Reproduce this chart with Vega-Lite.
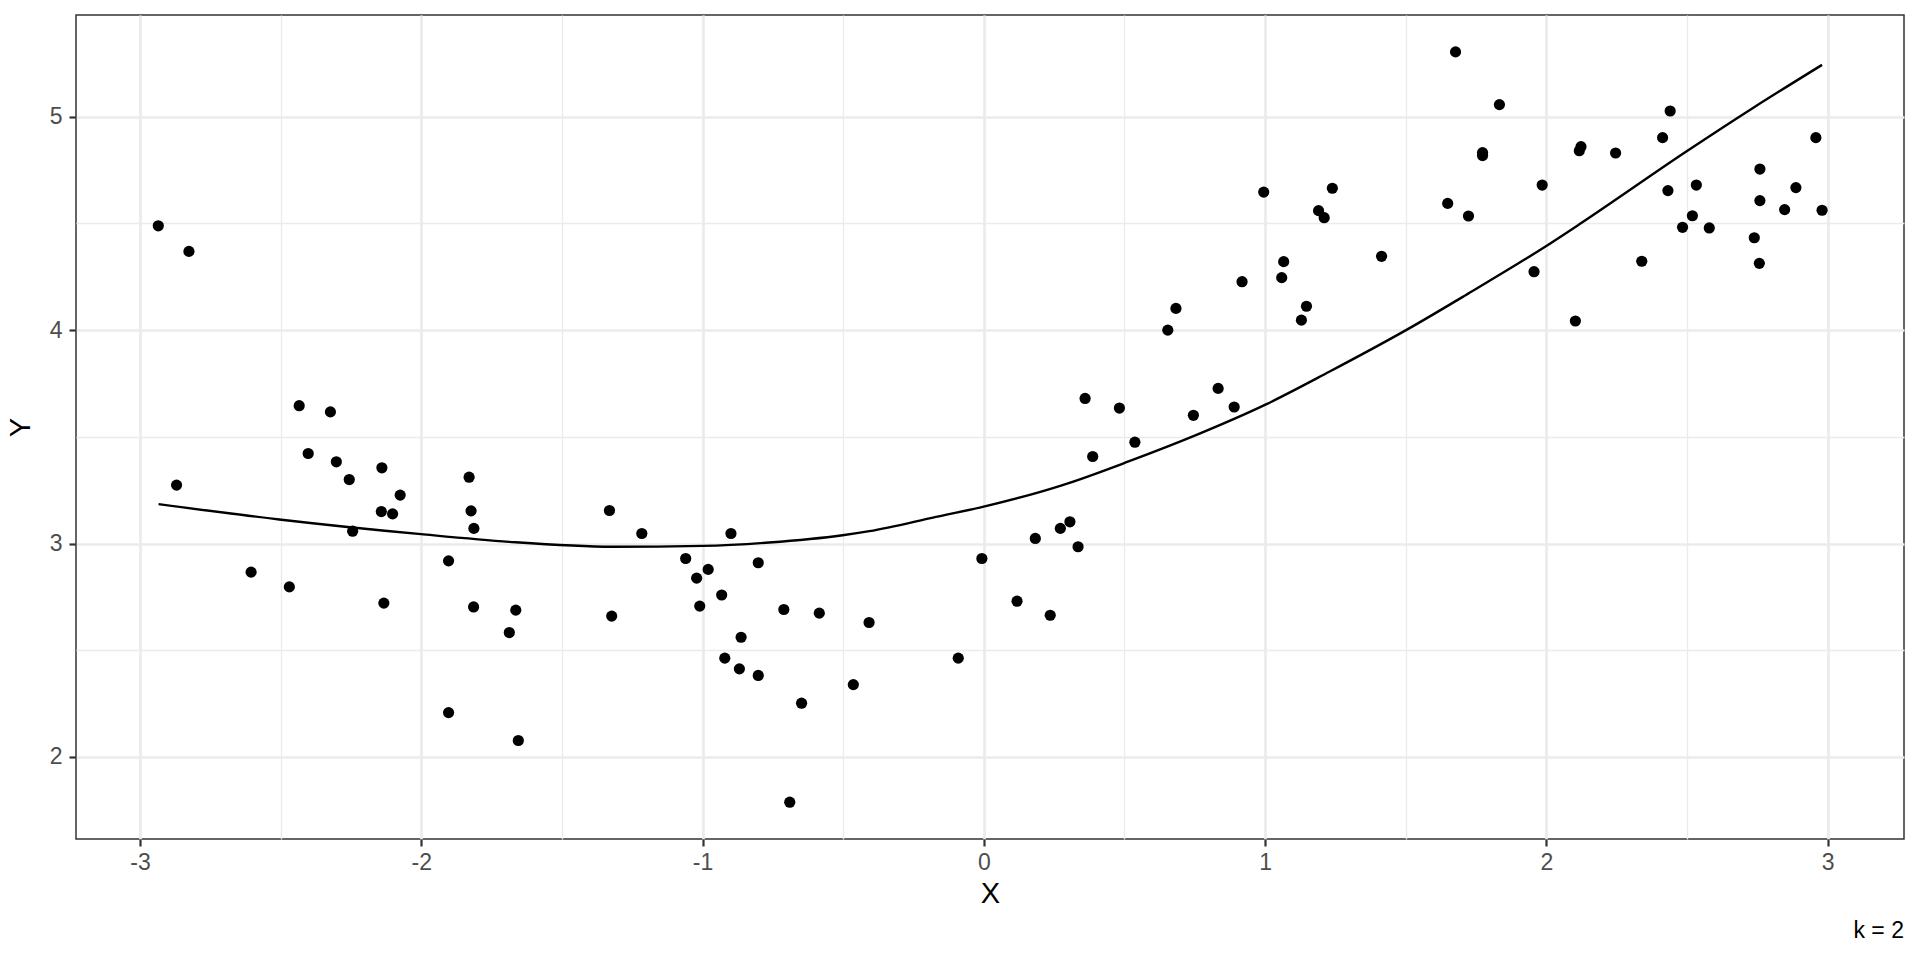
{
  "$schema": "https://vega.github.io/schema/vega-lite/v6.json",
  "width": 1828,
  "height": 824,
  "autosize": {"type": "none"},
  "padding": {"left": 76, "top": 15, "right": 16, "bottom": 121},
  "background": "white",
  "config": {
    "font": "Liberation Sans",
    "view": {"stroke": "#333333", "strokeWidth": 1.5}
  },
  "title": {"text": "k = 2", "orient": "bottom", "anchor": "end", "frame": "group", "fontSize": 23, "fontWeight": "normal", "color": "black", "font": "Liberation Sans", "offset": 12},
  "datasets": {
    "pts": [
      {"x": -2.935, "y": 4.489}, {"x": -2.826, "y": 4.369}, {"x": -2.434, "y": 3.646}, {"x": -2.323, "y": 3.617},
      {"x": -2.870, "y": 3.274}, {"x": -2.402, "y": 3.422}, {"x": -2.302, "y": 3.383}, {"x": -2.256, "y": 3.300},
      {"x": -2.140, "y": 3.355}, {"x": -2.075, "y": 3.227}, {"x": -2.142, "y": 3.150}, {"x": -2.102, "y": 3.139},
      {"x": -2.244, "y": 3.058}, {"x": -1.830, "y": 3.311}, {"x": -1.823, "y": 3.153}, {"x": -1.813, "y": 3.071},
      {"x": -1.903, "y": 2.919}, {"x": -2.605, "y": 2.866}, {"x": -2.469, "y": 2.797}, {"x": -2.133, "y": 2.721},
      {"x": -1.814, "y": 2.703}, {"x": -1.664, "y": 2.688}, {"x": -1.687, "y": 2.583}, {"x": -1.903, "y": 2.208},
      {"x": -1.655, "y": 2.077},
      {"x": -1.331, "y": 3.155}, {"x": -1.216, "y": 3.047}, {"x": -0.899, "y": 3.047}, {"x": -1.060, "y": 2.930},
      {"x": -0.980, "y": 2.879}, {"x": -1.021, "y": 2.838}, {"x": -0.802, "y": 2.910}, {"x": -0.932, "y": 2.759},
      {"x": -1.010, "y": 2.707}, {"x": -1.323, "y": 2.660}, {"x": -0.711, "y": 2.691}, {"x": -0.585, "y": 2.674},
      {"x": -0.408, "y": 2.630}, {"x": -0.863, "y": 2.561}, {"x": -0.921, "y": 2.463}, {"x": -0.869, "y": 2.413},
      {"x": -0.802, "y": 2.382}, {"x": -0.464, "y": 2.339}, {"x": -0.648, "y": 2.252}, {"x": -0.690, "y": 1.788},
      {"x": -0.091, "y": 2.463}, {"x": -0.007, "y": 2.930},
      {"x": 0.387, "y": 3.408}, {"x": 0.537, "y": 3.475}, {"x": 0.306, "y": 3.102}, {"x": 0.272, "y": 3.071},
      {"x": 0.183, "y": 3.024}, {"x": 0.335, "y": 2.985}, {"x": 0.118, "y": 2.730}, {"x": 0.236, "y": 2.664},
      {"x": 0.360, "y": 3.680}, {"x": 0.482, "y": 3.635}, {"x": 0.745, "y": 3.601}, {"x": 0.833, "y": 3.727},
      {"x": 0.890, "y": 3.640}, {"x": 0.654, "y": 4.000}, {"x": 0.683, "y": 4.102}, {"x": 0.918, "y": 4.227},
      {"x": 0.995, "y": 4.647}, {"x": 1.059, "y": 4.246}, {"x": 1.066, "y": 4.321}, {"x": 1.129, "y": 4.047},
      {"x": 1.147, "y": 4.112}, {"x": 1.190, "y": 4.560}, {"x": 1.210, "y": 4.527}, {"x": 1.239, "y": 4.665},
      {"x": 1.414, "y": 4.346}, {"x": 1.649, "y": 4.594}, {"x": 1.677, "y": 5.304},
      {"x": 1.723, "y": 4.535}, {"x": 1.773, "y": 4.832}, {"x": 1.773, "y": 4.818}, {"x": 1.833, "y": 5.057},
      {"x": 1.956, "y": 4.274}, {"x": 1.985, "y": 4.680}, {"x": 2.103, "y": 4.043}, {"x": 2.117, "y": 4.841},
      {"x": 2.123, "y": 4.860}, {"x": 2.246, "y": 4.830}, {"x": 2.339, "y": 4.323}, {"x": 2.413, "y": 4.902},
      {"x": 2.440, "y": 5.027}, {"x": 2.432, "y": 4.654}, {"x": 2.533, "y": 4.680}, {"x": 2.519, "y": 4.536},
      {"x": 2.484, "y": 4.482}, {"x": 2.579, "y": 4.479}, {"x": 2.739, "y": 4.433}, {"x": 2.757, "y": 4.313},
      {"x": 2.759, "y": 4.755}, {"x": 2.759, "y": 4.607}, {"x": 2.847, "y": 4.565}, {"x": 2.887, "y": 4.668},
      {"x": 2.958, "y": 4.902}, {"x": 2.980, "y": 4.562}
    ],
    "fit": [
      {"x": -2.934, "y": 3.185}, {"x": -2.505, "y": 3.113}, {"x": -2.001, "y": 3.044}, {"x": -1.687, "y": 3.008},
      {"x": -1.319, "y": 2.985}, {"x": -1.0, "y": 2.989}, {"x": -0.763, "y": 3.005}, {"x": -0.502, "y": 3.039},
      {"x": -0.407, "y": 3.058}, {"x": -0.170, "y": 3.125}, {"x": -0.004, "y": 3.172}, {"x": 0.280, "y": 3.274},
      {"x": 0.517, "y": 3.386}, {"x": 0.754, "y": 3.508}, {"x": 1.003, "y": 3.652}, {"x": 1.228, "y": 3.805},
      {"x": 1.501, "y": 4.000}, {"x": 1.714, "y": 4.165}, {"x": 1.987, "y": 4.384}, {"x": 2.117, "y": 4.496},
      {"x": 2.496, "y": 4.836}, {"x": 2.733, "y": 5.040}, {"x": 2.980, "y": 5.243}
    ]
  },
  "encoding": {
    "x": {
      "field": "x", "type": "quantitative",
      "scale": {"domain": [-3.2275, 3.2713], "nice": false, "zero": false},
      "axis": {
        "title": "X", "titleFontSize": 29, "titleFontWeight": "normal", "titleColor": "black", "titlePadding": 5, "titleFont": "Liberation Sans",
        "values": [-3, -2.5, -2, -1.5, -1, -0.5, 0, 0.5, 1, 1.5, 2, 2.5, 3],
        "labelExpr": "abs(datum.value % 1) > 0.1 ? '' : toString(datum.value)",
        "labelFontSize": 23, "labelColor": "#4D4D4D", "labelPadding": 5, "labelOverlap": false, "labelFlush": false, "labelFont": "Liberation Sans",
        "tickSize": 7, "tickWidth": 2.2, "tickColor": "#333333",
        "tickOpacity": {"condition": {"test": "abs(datum.value % 1) > 0.1", "value": 0}, "value": 1},
        "grid": true, "gridColor": "#EBEBEB",
        "gridWidth": {"condition": {"test": "abs(datum.value % 1) > 0.1", "value": 1.35}, "value": 2.7},
        "domain": false
      }
    },
    "y": {
      "field": "y", "type": "quantitative",
      "scale": {"domain": [1.6156, 5.4768], "nice": false, "zero": false},
      "axis": {
        "title": "Y", "titleFontSize": 29, "titleFontWeight": "normal", "titleColor": "black", "titlePadding": 14, "titleFont": "Liberation Sans",
        "values": [2, 2.5, 3, 3.5, 4, 4.5, 5],
        "labelExpr": "abs(datum.value % 1) > 0.1 ? '' : toString(datum.value)",
        "labelFontSize": 23, "labelColor": "#4D4D4D", "labelPadding": 7, "labelOverlap": false, "labelFlush": false, "labelFont": "Liberation Sans",
        "tickSize": 7, "tickWidth": 2.2, "tickColor": "#333333",
        "tickOpacity": {"condition": {"test": "abs(datum.value % 1) > 0.1", "value": 0}, "value": 1},
        "grid": true, "gridColor": "#EBEBEB",
        "gridWidth": {"condition": {"test": "abs(datum.value % 1) > 0.1", "value": 1.35}, "value": 2.7},
        "domain": false
      }
    }
  },
  "layer": [
    {"data": {"name": "pts"}, "mark": {"type": "circle", "color": "black", "opacity": 1, "size": 125}},
    {"data": {"name": "fit"}, "mark": {"type": "line", "color": "black", "strokeWidth": 2.4, "interpolate": "monotone"}}
  ]
}
